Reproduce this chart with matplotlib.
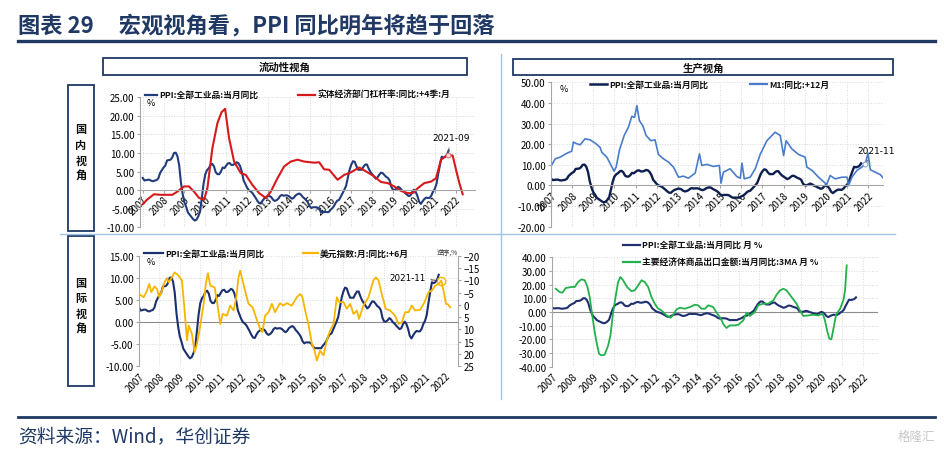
import matplotlib.pyplot as plt
from matplotlib.patches import Rectangle
from matplotlib.lines import Line2D
from matplotlib.ticker import FormatStrFormatter

plt.rcParams['font.family'] = ['Noto Sans CJK SC', 'DejaVu Sans']

W, H = 945, 452
NAVY = '#1F3864'

# PPI: all industrial products, yoy %, monthly 2007-01 .. 2021-09
ppi = [3.3, 2.6, 2.7, 2.8, 2.8, 2.5, 2.4, 2.6, 2.7, 3.2, 4.6, 5.4,
       6.1, 6.6, 8.0, 8.1, 8.2, 8.8, 10.0, 10.1, 9.1, 6.6, 2.0, -1.1,
       -3.3, -4.5, -6.0, -6.6, -7.2, -7.8, -8.2, -7.9, -7.0, -5.8, -2.1, 1.7,
       4.3, 5.4, 5.9, 6.8, 7.1, 6.4, 4.8, 4.3, 4.3, 5.0, 6.1, 5.9,
       6.6, 7.2, 7.3, 6.8, 6.8, 7.1, 7.5, 7.3, 6.5, 5.0, 2.7, 1.7,
       0.7, 0.0, -0.3, -0.7, -1.4, -2.1, -2.9, -3.5, -3.6, -2.8, -2.2, -1.9,
       -1.6, -1.6, -1.9, -2.6, -2.9, -2.7, -2.3, -1.6, -1.3, -1.5, -1.4, -1.4,
       -1.6, -2.0, -2.3, -2.0, -1.4, -1.1, -0.9, -1.2, -1.8, -2.2, -2.7, -3.3,
       -4.3, -4.8, -4.6, -4.6, -4.6, -4.8, -5.4, -5.9, -5.9, -5.9, -5.9, -5.9,
       -5.3, -4.9, -4.3, -3.4, -2.8, -2.6, -1.7, -0.8, 0.1, 1.2, 3.3, 5.5,
       6.9, 7.8, 7.6, 6.4, 5.5, 5.5, 5.5, 6.3, 6.9, 6.9, 5.8, 4.9,
       4.3, 3.7, 3.1, 3.4, 4.1, 4.7, 4.6, 4.1, 3.6, 3.3, 2.7, 0.9,
       0.1, 0.1, 0.4, 0.9, 0.6, 0.0, -0.3, -0.8, -1.2, -1.6, -1.4, -0.5,
       0.1, -0.4, -1.5, -3.1, -3.7, -3.0, -2.4, -2.0, -2.1, -2.1, -1.5, -0.4,
       0.3, 1.7, 4.4, 6.8, 9.0, 8.8, 9.0, 9.5, 10.7]
ppi_x = [2007 + i / 12 for i in range(len(ppi))]

# real economy leverage ratio yoy, +4 quarters
lev_x = [2007.0, 2007.2, 2007.54, 2007.86, 2008.42, 2008.66, 2008.98, 2009.22, 2009.46,
         2009.7, 2009.94, 2010.1, 2010.34, 2010.58, 2010.78, 2010.95, 2011.14, 2011.38,
         2011.7, 2011.94, 2012.26, 2012.58, 2012.9, 2013.14, 2013.46, 2013.78, 2014.1,
         2014.42, 2014.74, 2015.22, 2015.46, 2015.7, 2015.94, 2016.34, 2016.66, 2016.98,
         2017.38, 2017.78, 2018.1, 2018.42, 2018.74, 2019.06, 2019.38, 2019.7, 2019.94,
         2020.18, 2020.5, 2020.82, 2021.06, 2021.3, 2021.62, 2021.86, 2022.02, 2022.18, 2022.34]
lev_y = [-3.8, -2.6, -1.1, -1.25, -1.25, -0.4, 1.0, 1.0, -0.4,
         -2.1, -2.6, 0.5, 11.3, 18.0, 21.0, 21.9, 14.0, 7.7,
         4.6, 4.1, 1.4, -0.8, -2.1, -0.4, 3.2, 6.4, 7.7,
         8.2, 7.7, 7.4, 7.5, 5.6, 5.5, 2.8, 4.1, 4.8,
         6.1, 4.8, 3.7, 2.2, 1.9, 1.0, -0.2, -0.8, -0.8,
         0.5, 1.9, 2.3, 3.2, 8.2, 9.5, 9.3, 5.5, 1.9, -1.1]

# M1 yoy, +12 months
m1_x = [2007.04, 2007.2, 2007.43, 2007.75, 2007.98, 2008.06, 2008.22, 2008.38, 2008.61,
        2008.85, 2009.09, 2009.32, 2009.4, 2009.64, 2009.87, 2009.98, 2010.08, 2010.24,
        2010.46, 2010.66, 2010.82, 2010.95, 2011.06, 2011.18, 2011.34, 2011.5, 2011.72,
        2011.92, 2012.08, 2012.32, 2012.56, 2012.79, 2013.03, 2013.26, 2013.5, 2013.82,
        2014.02, 2014.13, 2014.37, 2014.68, 2014.96, 2015.04, 2015.15, 2015.47, 2015.79,
        2015.95, 2016.03, 2016.14, 2016.42, 2016.66, 2016.89, 2017.21, 2017.6, 2017.84,
        2018.0, 2018.12, 2018.39, 2018.71, 2019.02, 2019.1, 2019.34, 2019.65, 2019.97,
        2020.04, 2020.2, 2020.44, 2020.76, 2021.0, 2021.07, 2021.23, 2021.47, 2021.7,
        2021.86, 2021.99, 2022.1, 2022.34, 2022.58, 2022.7]
m1_y = [10.0, 12.9, 13.7, 15.6, 16.6, 21.0, 20.2, 19.7, 22.6,
        22.1, 20.5, 18.5, 16.1, 13.7, 9.2, 6.9, 8.9, 17.2,
        24.2, 28.2, 33.5, 33.0, 38.7, 31.4, 29.0, 24.2, 21.7,
        22.1, 15.0, 12.9, 11.3, 8.9, 4.0, 4.5, 3.5, 6.0,
        15.3, 9.7, 10.2, 9.2, 9.7, 1.1, 6.4, 8.1, 4.3,
        3.5, 10.8, 3.2, 4.0, 8.1, 15.0, 21.7, 25.8, 24.2,
        14.5, 21.7, 17.7, 15.0, 13.7, 8.9, 7.3, 4.0, 1.1,
        0.5, 4.8, 3.2, 4.0, 4.0, -0.1, 4.0, 7.3, 8.9,
        10.5, 15.6, 7.6, 6.4, 5.2, 3.7]

# US dollar index yoy, +6 months (right axis, reversed)
usd_x = [2007.01, 2007.23, 2007.39, 2007.5, 2007.6, 2007.76, 2007.88, 2007.99, 2008.12,
         2008.25, 2008.37, 2008.45, 2008.61, 2008.74, 2008.94, 2009.1, 2009.23, 2009.35,
         2009.43, 2009.59, 2009.72, 2009.84, 2010.0, 2010.16, 2010.27, 2010.37, 2010.49,
         2010.7, 2010.81, 2010.98, 2011.09, 2011.3, 2011.46, 2011.63, 2011.76, 2011.87,
         2011.95, 2012.07, 2012.23, 2012.36, 2012.56, 2012.72, 2012.93, 2013.04, 2013.17,
         2013.34, 2013.5, 2013.66, 2013.9, 2014.07, 2014.23, 2014.48, 2014.72, 2014.89,
         2015.0, 2015.13, 2015.29, 2015.46, 2015.59, 2015.7, 2015.86, 2016.03, 2016.19,
         2016.35, 2016.52, 2016.68, 2016.8, 2017.01, 2017.17, 2017.33, 2017.5, 2017.66,
         2017.77, 2017.98, 2018.23, 2018.47, 2018.59, 2018.72, 2018.88, 2019.07, 2019.29,
         2019.53, 2019.7, 2019.86, 2020.02, 2020.19, 2020.35, 2020.51, 2020.76, 2020.97,
         2021.17, 2021.33, 2021.49, 2021.66, 2021.79, 2021.9, 2022.02, 2022.12, 2022.23]
usd_y = [-4.4, -3.1, -5.8, -8.5, -5.2, -7.5, -6.5, -3.1, -5.8,
         -9.2, -10.9, -9.2, -11.2, -13.2, -11.9, -9.9, 2.3, 14.5,
         8.4, 11.8, 19.3, 15.9, 8.4, -0.4, -8.5, -12.9, -7.8,
         -7.1, -1.7, 7.8, 3.7, 4.4, 0.3, 2.3, -3.1, -11.2,
         -13.9, -9.9, -4.4, -0.4, 1.0, 5.0, 9.8, 11.1, 4.4,
         3.0, -0.4, 3.0, -0.7, 0.3, -0.7, 0.3, -3.1, -4.4,
         -3.1, 2.3, 7.8, 15.9, 18.6, 22.7, 18.6, 20.6, 14.5,
         10.4, 7.8, -3.1, -1.1, -1.1, 1.6, -0.4, 3.7, 2.3,
         5.7, 0.3, -3.1, -9.9, -11.2, -9.9, -4.4, 1.6, 2.3,
         4.4, 7.8, 7.1, 3.0, 3.0, 0.3, 2.3, 2.0, -1.1,
         -5.2, -5.8, -7.8, -8.5, -9.9, -5.8, -0.4, -0.2, 1.0]

# exports of major economies yoy, 3MA
exp_x = [2007.18, 2007.37, 2007.5, 2007.66, 2007.93, 2008.1, 2008.26, 2008.42, 2008.58,
         2008.71, 2008.82, 2008.93, 2009.06, 2009.18, 2009.27, 2009.38, 2009.54, 2009.71,
         2009.82, 2009.95, 2010.08, 2010.19, 2010.3, 2010.43, 2010.62, 2010.83, 2010.99,
         2011.16, 2011.32, 2011.48, 2011.64, 2011.8, 2011.96, 2012.12, 2012.28, 2012.53,
         2012.72, 2012.85, 2013.01, 2013.17, 2013.41, 2013.65, 2013.89, 2014.05, 2014.21,
         2014.38, 2014.54, 2014.78, 2014.94, 2015.1, 2015.29, 2015.42, 2015.58, 2015.83,
         2015.99, 2016.23, 2016.39, 2016.55, 2016.79, 2016.95, 2017.19, 2017.43, 2017.68,
         2017.84, 2018.0, 2018.16, 2018.32, 2018.56, 2018.8, 2018.96, 2019.13, 2019.37,
         2019.61, 2019.85, 2020.06, 2020.17, 2020.29, 2020.38, 2020.48, 2020.58, 2020.71,
         2020.9, 2021.06, 2021.14, 2021.22]
exp_y = [17.0, 14.6, 14.1, 17.5, 18.3, 18.3, 21.9, 23.9, 23.2,
         18.3, 10.9, -1.3, -14.6, -24.4, -30.5, -31.7, -31.3, -24.4,
         -17.1, 0.0, 12.2, 21.9, 25.6, 23.2, 18.3, 15.3, 15.8,
         19.5, 23.2, 21.9, 18.3, 10.9, 6.0, 2.4, 1.2, -2.5,
         -4.2, -2.0, 1.9, 3.1, 2.4, 3.6, 5.3, 4.9, 2.4,
         2.4, 4.9, 3.6, -0.5, -3.7, -9.3, -11.7, -9.8, -9.8,
         -9.3, -6.1, -0.5, -2.9, 0.0, 4.9, 6.1, 6.1, 8.5,
         12.7, 15.8, 17.0, 15.8, 10.9, 6.1, 1.2, -2.9, -2.5,
         -2.0, -2.5, -1.2, -6.1, -14.6, -19.5, -20.0, -12.2, -2.0,
         2.4, 8.5, 15.8, 34.1]

years = list(range(2007, 2023))

fig = plt.figure(figsize=(9.45, 4.52), dpi=100)


def fx(x):
    return x / W


def fy(y):
    return 1 - y / H


def add_ax(x0, y0, x1, y1):
    return fig.add_axes([fx(x0), fy(y1), (x1 - x0) / W, (y1 - y0) / H])


def style(ax, ylo, yhi, step, xlim, zero_spine):
    # spine position first: moving it resets the tick labels
    if zero_spine:
        ax.spines['bottom'].set_position(('data', 0))
        ax.spines['bottom'].set_color('#A6A6A6')
    else:
        ax.spines['bottom'].set_visible(False)
        ax.axhline(0, color='#8C8C8C', lw=0.8)
    ax.set_xlim(*xlim)
    ax.set_ylim(ylo, yhi)
    ax.set_yticks(list(range(ylo, yhi + 1, step)))
    ax.yaxis.set_major_formatter(FormatStrFormatter('%.2f'))
    ax.set_xticks(years)
    ax.set_xticklabels([str(y) for y in years], rotation=45, ha='right',
                       rotation_mode='anchor')
    ax.grid(True, color='#D9D9D9', ls=':', lw=0.7)
    ax.set_axisbelow(True)
    for s in ['top', 'right']:
        ax.spines[s].set_visible(False)
    ax.spines['left'].set_color('#A6A6A6')
    ax.tick_params(axis='y', labelsize=7, length=2, color='#A6A6A6', pad=2)
    if zero_spine:
        ax.tick_params(axis='x', labelsize=7, length=2, color='#A6A6A6', pad=1)
    else:
        ax.tick_params(axis='x', labelsize=7, length=0, pad=3)


def legend_item(x0, x1, y, color, label, lw=1.6):
    fig.add_artist(Line2D([fx(x0), fx(x1)], [fy(y), fy(y)], color=color, lw=lw,
                          transform=fig.transFigure))
    fig.text(fx(x1 + 2), fy(y), label, fontsize=6.3, fontweight='bold',
             va='center', ha='left', color='#111111')


# panel 1: domestic / liquidity
ax1 = add_ax(140, 98.3, 475, 228.3)
style(ax1, -10, 25, 5, (2006.87, 2022.93), True)
ax1.plot(ppi_x, ppi, color='#203C7C', lw=1.5)
ax1.plot(lev_x, lev_y, color='#D7191C', lw=1.5)
ax1.plot([2021.62], [9.5], 'o', mfc='#FFE0E0', mec='#E06060', ms=3.5, mew=0.7)
ax1.annotate('2021-09', xy=(2021.62, 9.5), xytext=(2021.78, 14.1), fontsize=6.5,
             ha='center', va='center', family='DejaVu Sans',
             arrowprops=dict(arrowstyle='-', color='#595959', lw=0.6))
ax1.text(2007.2, 23.5, '%', fontsize=6.5, va='center')
legend_item(145, 157, 95.7, '#203C7C', 'PPI:全部工业品:当月同比')
legend_item(298, 315, 95.7, '#D7191C', '实体经济部门杠杆率:同比:+4季:月')

# panel 2: domestic / production
ax2 = add_ax(551, 83.3, 883, 227.7)
style(ax2, -20, 50, 10, (2007.0, 2022.7), True)
ax2.plot(ppi_x, ppi, color='#0E1F4F', lw=1.7)
ax2.plot(m1_x, m1_y, color='#4A7CCB', lw=1.2)
ax2.plot([2021.86], [10.5], 'o', mfc='white', mec='#7F9FD8', ms=3.5, mew=0.7)
ax2.annotate('2021-11', xy=(2021.86, 10.5), xytext=(2022.38, 17.1), fontsize=6.5,
             ha='center', va='center', family='DejaVu Sans',
             arrowprops=dict(arrowstyle='-', color='#595959', lw=0.6))
ax2.text(2007.4, 47, '%', fontsize=6.5, va='center')
legend_item(590, 607, 85, '#0E1F4F', 'PPI:全部工业品:当月同比', lw=1.8)
legend_item(750, 767, 85, '#4A7CCB', 'M1:同比:+12月')

# panel 3: international / dollar
ax3 = add_ax(139, 256.7, 458, 367.3)
style(ax3, -10, 15, 5, (2007.0, 2022.61), False)
ax3.plot(ppi_x, ppi, color='#1C2F6E', lw=1.5)
ax3r = ax3.twinx()
ax3r.set_ylim(25, -20)
ax3r.set_yticks(list(range(-20, 26, 5)))
ax3r.plot(usd_x, usd_y, color='#F7B500', lw=1.3)
ax3r.plot([2021.78], [-9.6], 'o', mfc='none', mec='#F7B500', ms=6, mew=1.0)
ax3r.annotate('2021-11', xy=(2021.72, -9.8), xytext=(2020.12, -11.3), fontsize=6.3,
              ha='center', va='center', family='DejaVu Sans',
              arrowprops=dict(arrowstyle='-', color='#404040', lw=0.7))
for s in ['top', 'left', 'bottom']:
    ax3r.spines[s].set_visible(False)
ax3r.spines['right'].set_color('#A6A6A6')
ax3r.tick_params(axis='y', labelsize=7, length=2, color='#A6A6A6', pad=2)
ax3.text(2007.35, 13.8, '%', fontsize=6.5, va='center')
fig.text(fx(458), fy(254), '逆序,%', fontsize=4.8, ha='right', va='center', color='#333333')
legend_item(144, 163, 254, '#1C2F6E', 'PPI:全部工业品:当月同比')
legend_item(303, 318, 254, '#F7B500', '美元指数:月:同比:+6月')

# panel 4: international / exports
ax4 = add_ax(552, 258.3, 878, 367.7)
style(ax4, -40, 40, 10, (2007.0, 2022.73), False)
ax4.plot(ppi_x, ppi, color='#1F2F6F', lw=1.5)
ax4.plot(exp_x, exp_y, color='#22B14C', lw=1.3)
legend_item(623, 640, 245.7, '#1F2F6F', 'PPI:全部工业品:当月同比 月 %')
legend_item(623, 640, 263.3, '#22B14C', '主要经济体商品出口金额:当月同比:3MA 月 %')

# frame: headers, side boxes, separators
for x0, y0, x1, y1, label in [(103, 59, 467, 76, '流动性视角'), (513, 60, 893, 76, '生产视角')]:
    fig.add_artist(Rectangle((fx(x0), fy(y1)), (x1 - x0) / W, (y1 - y0) / H, fill=False,
                             ec=NAVY, lw=1.3, transform=fig.transFigure))
    fig.text(fx((x0 + x1) / 2), fy((y0 + y1) / 2), label, fontsize=7.5, fontweight='bold',
             ha='center', va='center', color='#111111')

for y0, y1, chars, cy in [(86, 232, '国内视角', 130), (237, 387, '国际视角', 283)]:
    fig.add_artist(Rectangle((fx(68), fy(y1)), 26 / W, (y1 - y0) / H, fill=False,
                             ec=NAVY, lw=1.3, transform=fig.transFigure))
    for i, ch in enumerate(chars):
        fig.text(fx(81), fy(cy + i * 15.5), ch, fontsize=8, fontweight='bold',
                 ha='center', va='center', color='#111111')

fig.add_artist(Line2D([fx(60), fx(895)], [fy(235), fy(235)], color='#9DC3E6', lw=1.0,
                      transform=fig.transFigure))
fig.add_artist(Line2D([fx(501.5), fx(501.5)], [fy(55), fy(400)], color='#9DC3E6', lw=1.0,
                      transform=fig.transFigure))

# title and source
fig.text(fx(18), fy(26), '图表 29     宏观视角看，PPI 同比明年将趋于回落', fontsize=16,
         fontweight='bold', color=NAVY, va='center', ha='left')
fig.add_artist(Line2D([fx(18), fx(935)], [fy(42), fy(42)], color=NAVY, lw=2.4,
                      transform=fig.transFigure))
fig.add_artist(Line2D([fx(18), fx(935)], [fy(418), fy(418)], color=NAVY, lw=2.0,
                      transform=fig.transFigure))
fig.text(fx(18), fy(437), '资料来源：Wind，华创证券', fontsize=13.5, style='italic',
         color=NAVY, va='center', ha='left')
fig.text(fx(935), fy(437), '格隆汇', fontsize=9, color='#C8C8C8', va='center', ha='right')

fig.savefig('out.png', dpi=100)
